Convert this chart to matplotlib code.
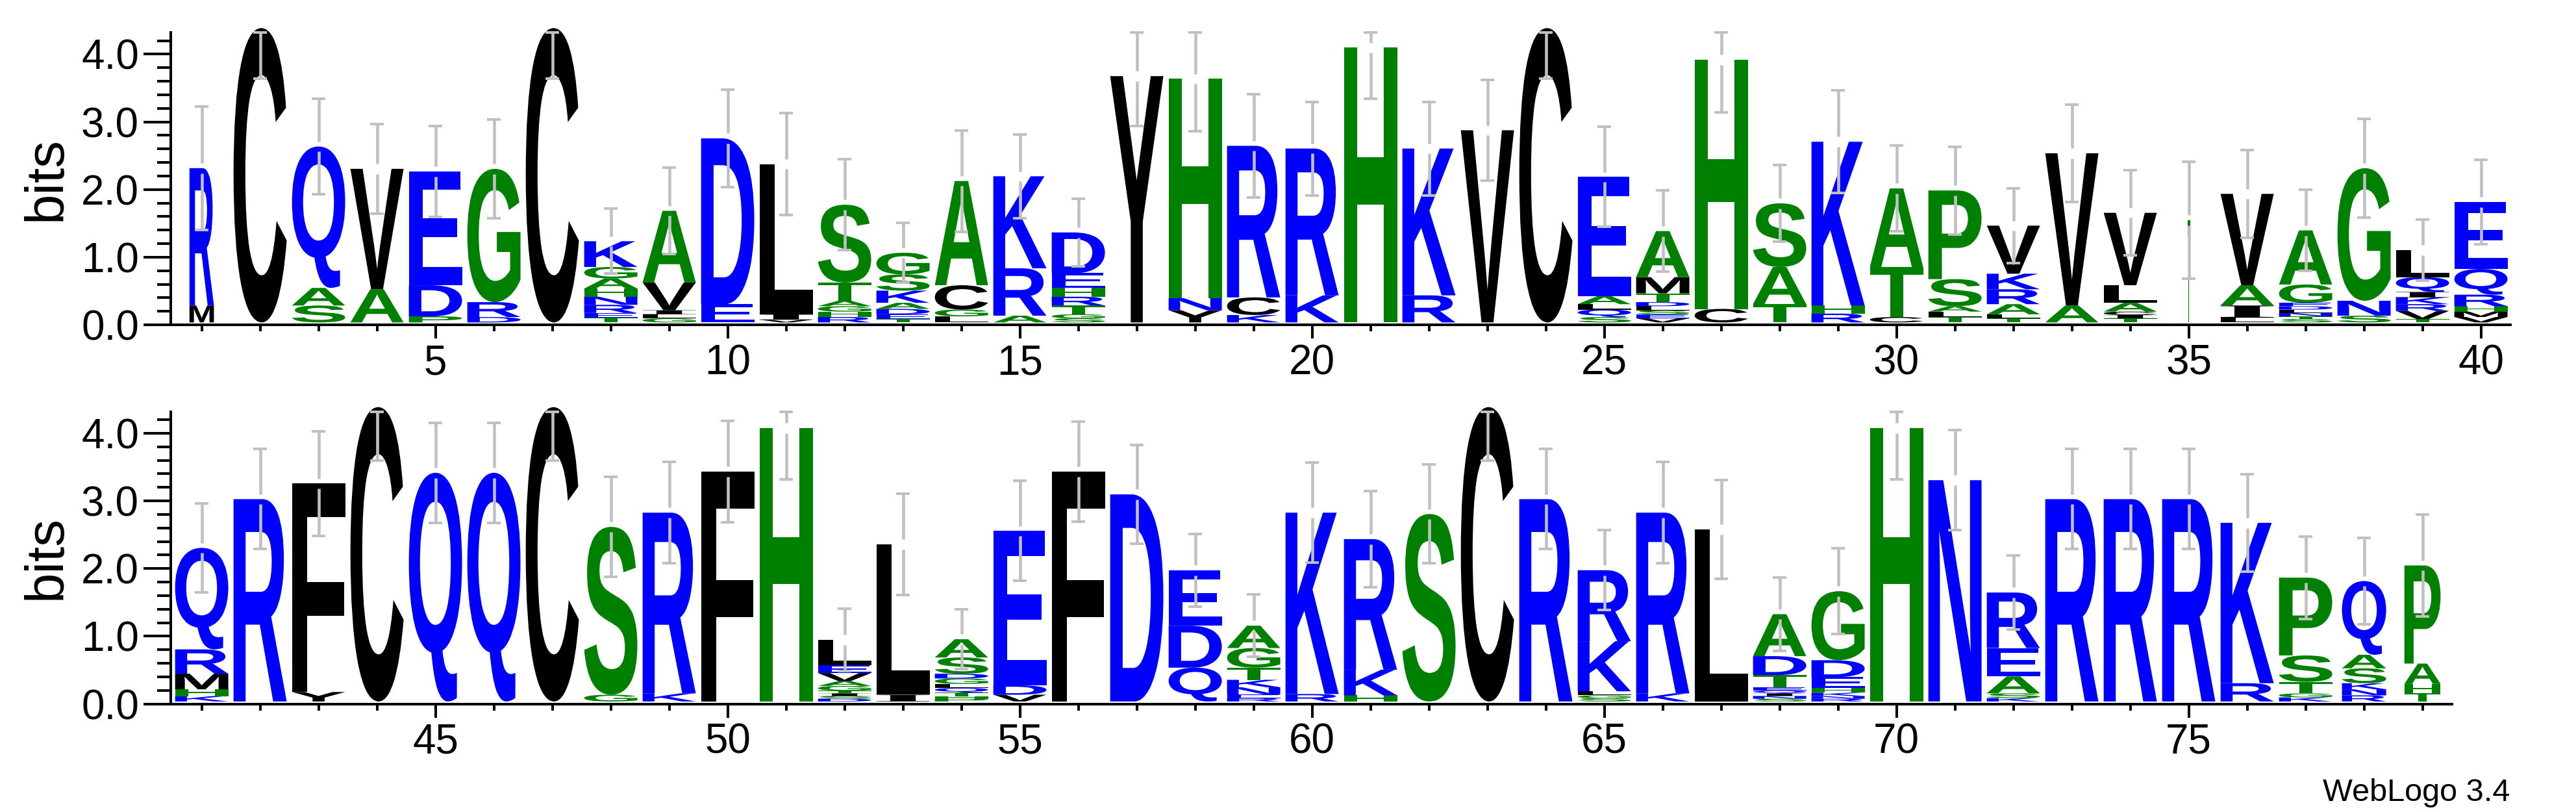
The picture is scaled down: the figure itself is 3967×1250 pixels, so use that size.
import matplotlib
matplotlib.use("Agg")
import matplotlib.pyplot as plt
from matplotlib.textpath import TextPath
from matplotlib.patches import PathPatch
from matplotlib.font_manager import FontProperties
from matplotlib.transforms import Affine2D

# Sequence logo data: letters listed bottom -> top, heights in bits
letters = [
    "MR", "C", "SAQ", "AV", "PDE", "DRG", "C", "TERNHAGK", "GLIVA", "ED",
    "VIL", "RHGATS", "TEDAKSG", "LGCA", "ARK", "SGTRHED", "Y", "YNH", "KCR", "KR",
    "H", "RK", "V", "C", "SQLAE", "VESLDTMA", "CH", "TAS", "RHK", "CTA",
    "TLASP", "TLARKV", "AV", "TICALV", "T", "LIAV", "STNLDEGA", "SNG", "TVRKIQL", "VMHRQE",
    "KHMRQ", "R", "YF", "C", "Q", "Q", "C", "GS", "KR", "F",
    "H", "DSITGAVEL", "IL", "PHTQLGDSA", "VDE", "F", "D", "QDE", "RENKTGA", "RK",
    "HKR", "S", "C", "R", "SGLKR", "KR", "L", "SNIQETDA", "RNKHEDG", "H",
    "N", "KSAER", "R", "R", "R", "RK", "KGTSP", "RNKSAQ", "THAP",
]
heights = [
    [0.25, 2.03], [4.35], [0.25, 0.26, 2.09], [0.49, 1.78], [0.09, 0.46, 1.68],
    [0.08, 0.22, 1.97], [4.35], [0.07, 0.07, 0.12, 0.12, 0.12, 0.15, 0.17, 0.38],
    [0.06, 0.06, 0.06, 0.41, 1.06], [0.27, 2.45],
    [0.04, 0.08, 2.22], [0.08, 0.08, 0.08, 0.08, 0.27, 1.15],
    [0.05, 0.07, 0.08, 0.09, 0.18, 0.24, 0.32], [0.09, 0.10, 0.36, 1.54],
    [0.10, 0.70, 1.36], [0.06, 0.06, 0.13, 0.13, 0.13, 0.22, 0.60], [3.64],
    [0.18, 0.18, 3.24], [0.11, 0.26, 2.24], [0.40, 2.17],
    [4.06], [0.40, 2.17], [2.84], [4.35], [0.08, 0.11, 0.08, 0.12, 1.76],
    [0.06, 0.06, 0.06, 0.06, 0.06, 0.13, 0.24, 0.68], [0.20, 3.68],
    [0.27, 0.55, 0.94], [0.13, 0.12, 2.42], [0.08, 0.74, 1.16],
    [0.08, 0.08, 0.08, 0.40, 1.31], [0.06, 0.06, 0.15, 0.22, 0.23, 0.71],
    [0.25, 2.25], [0.06, 0.05, 0.05, 0.13, 0.26, 1.07], [1.51],
    [0.07, 0.18, 0.30, 1.35], [0.05, 0.04, 0.05, 0.05, 0.05, 0.05, 0.27, 0.80],
    [0.10, 0.22, 1.96], [0.05, 0.12, 0.10, 0.10, 0.08, 0.22, 0.40],
    [0.08, 0.08, 0.08, 0.17, 0.38, 0.99],
    [0.08, 0.10, 0.23, 0.36, 1.50], [2.99], [0.14, 3.08], [4.35], [3.38],
    [3.38], [4.35], [0.10, 2.48], [0.12, 2.67], [3.40],
    [4.04], [0.04, 0.04, 0.04, 0.04, 0.07, 0.07, 0.12, 0.12, 0.37], [0.10, 2.22],
    [0.04, 0.04, 0.05, 0.07, 0.06, 0.08, 0.07, 0.24, 0.27], [0.10, 0.14, 2.28],
    [3.40], [3.06], [0.50, 0.62, 0.82], [0.05, 0.05, 0.11, 0.11, 0.18, 0.29, 0.33],
    [0.11, 2.68],
    [0.09, 0.38, 1.93], [2.77], [4.35], [2.99], [0.05, 0.04, 0.06, 0.74, 1.05],
    [0.12, 2.67], [2.54], [0.04, 0.04, 0.04, 0.04, 0.05, 0.18, 0.28, 0.62],
    [0.04, 0.04, 0.05, 0.07, 0.16, 0.25, 1.02], [4.04],
    [3.27], [0.05, 0.07, 0.25, 0.42, 0.82], [2.99], [2.99], [2.99],
    [0.27, 2.37], [0.06, 0.06, 0.17, 0.39, 1.15], [0.09, 0.09, 0.09, 0.22, 0.20, 1.09],
    [0.12, 0.14, 0.30, 1.45],
]
errors = [
    0.91, 0.75, 0.71, 0.66, 0.67, 0.73, 0.75, 0.48, 0.64, 0.72,
    0.75, 0.67, 0.44, 0.75, 0.62, 0.50, 0.74, 0.77, 0.76, 0.69,
    0.75, 0.69, 0.74, 0.75, 0.74, 0.60, 0.78, 0.57, 0.76, 0.63,
    0.65, 0.55, 0.72, 0.63, 0.86, 0.65, 0.60, 0.73, 0.45, 0.62,
    0.66, 0.74, 0.77, 0.79, 0.74, 0.74, 0.79, 0.74, 0.75, 0.75,
    0.76, 0.46, 0.75, 0.44, 0.74, 0.74, 0.73, 0.54, 0.46, 0.74,
    0.71, 0.73, 0.79, 0.74, 0.59, 0.75, 0.73, 0.54, 0.63, 0.76,
    0.74, 0.55, 0.74, 0.74, 0.74, 0.72, 0.61, 0.64, 0.75,
]
# fraction of sequences occupying each column (stack width)
occupancy = {1: 0.46, 35: 0.05, 78: 0.83, 79: 0.68}

row_ranges = [(1, 40), (41, 79)]
YMAX = 4.32
BASE = 0.035

# WebLogo hydrophobicity colour scheme
colours = {}
for c in "RKDENQ":
    colours[c] = "#0000ff"
for c in "SGHTAP":
    colours[c] = "#008000"
for c in "YVMCLFIW":
    colours[c] = "#000000"

plt.rcParams["font.family"] = ["Liberation Sans", "DejaVu Sans"]
glyph_font = FontProperties(family="Liberation Sans", weight="bold")
serif_font = FontProperties(family="Liberation Serif", weight="bold")
glyphs = {c: TextPath((0, 0), c, size=1, prop=glyph_font) for c in colours}
# WebLogo draws I with serifs so it does not turn into a plain block
glyphs["I"] = TextPath((0, 0), "I", size=1, prop=serif_font)

fig = plt.figure(figsize=(39.67, 12.5), dpi=100)
axes_rects = [[265.6 / 3967, 750 / 1250, 3600 / 3967, 450 / 1250],
              [265.6 / 3967, 166.5 / 1250, 3510 / 3967, 450 / 1250]]


def draw_letter(ax, ch, x0, y0, w, h):
    path = glyphs[ch]
    ext = path.get_extents()
    tr = (Affine2D().translate(-ext.x0, -ext.y0)
          .scale(w / ext.width, h / ext.height).translate(x0, y0))
    ax.add_patch(PathPatch(tr.transform_path(path), facecolor=colours[ch],
                           edgecolor="none", clip_on=False, zorder=2))


for (first, last), rect in zip(row_ranges, axes_rects):
    ax = fig.add_axes(rect)
    for pos in range(first, last + 1):
        i = pos - 1
        w = 0.91 * occupancy.get(pos, 1.0)
        y = BASE
        for ch, h in zip(letters[i], heights[i]):
            draw_letter(ax, ch, pos - w / 2, y, w, h)
            y += h
        # error bar, broken at the stack top, clipped at the max
        top, e, gap = y, errors[i], 0.075
        lo, hi = top - e, min(top + e, YMAX)
        kw = dict(color="#c0c0c0", lw=3.3, solid_capstyle="butt", zorder=3,
                  clip_on=False)
        if top + gap < hi:
            ax.plot([pos, pos], [top + gap, hi], **kw)
        ax.plot([pos, pos], [lo, min(top - gap, hi)], **kw)
        for yy in (lo, hi):
            ax.plot([pos - 0.115, pos + 0.115], [yy, yy], color="#c0c0c0",
                    lw=2.9, solid_capstyle="butt", zorder=3, clip_on=False)

    ax.set_xlim(first - 0.5, last + 0.5)
    ax.set_ylim(0, YMAX)
    ax.set_xticks([p for p in range(first, last + 1) if p % 5 == 0])
    ax.set_xticks(range(first, last + 1), minor=True)
    ax.set_yticks([0, 1, 2, 3, 4])
    ax.set_yticklabels(["0.0", "1.0", "2.0", "3.0", "4.0"])
    ax.set_yticks([v / 5 for v in range(0, 22)], minor=True)
    for s in ("top", "right"):
        ax.spines[s].set_visible(False)
    for s in ("left", "bottom"):
        ax.spines[s].set_linewidth(2.9)
    ax.spines["left"].set_position(("outward", 2.2))
    ax.tick_params(axis="x", which="major", length=15, width=2.9, labelsize=46, pad=6)
    ax.tick_params(axis="x", which="minor", length=7.5, width=2.9)
    ax.tick_params(axis="y", which="major", length=30, width=2.9, labelsize=46, pad=5)
    ax.tick_params(axis="y", which="minor", length=15, width=2.9)
    fig.text(72 / 3967, rect[1] + rect[3] / 2, "bits", rotation=90,
             ha="center", va="center", fontsize=60)

fig.text(3865 / 3967, (1250 - 1233) / 1250, "WebLogo 3.4", ha="right",
         va="baseline", fontsize=35)

fig.savefig("out.png", dpi=100)
